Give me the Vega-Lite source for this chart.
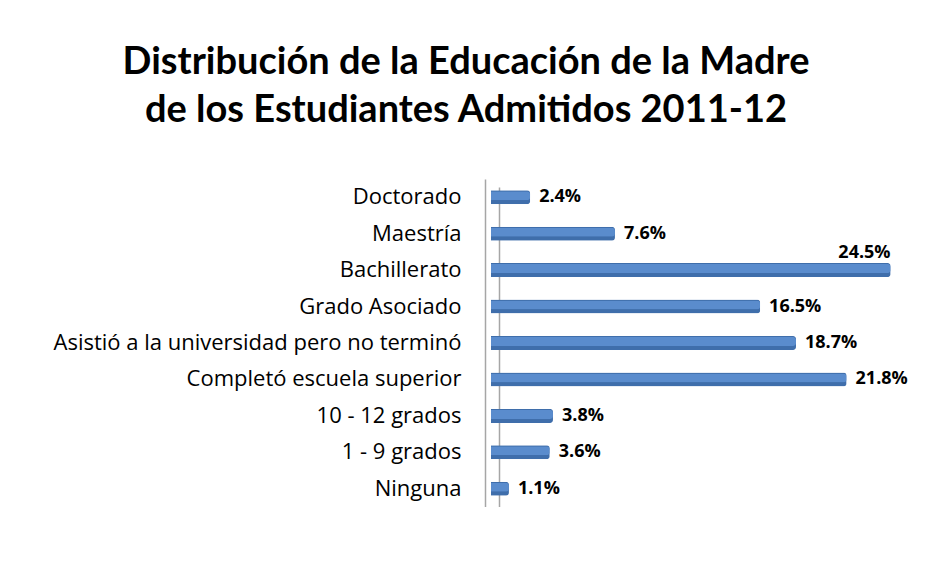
{
  "$schema": "https://vega.github.io/schema/vega-lite/v6.json",
  "width": 442,
  "height": 328,
  "autosize": {"type": "none"},
  "padding": {"left": 491, "top": 179, "right": 0, "bottom": 0},
  "background": "white",
  "title": {
    "text": ["Distribución de la Educación de la Madre", "de los Estudiantes Admitidos 2011-12"],
    "font": "Lato",
    "fontSize": 38,
    "fontWeight": "bold",
    "color": "black",
    "lineHeight": 48,
    "anchor": "middle",
    "frame": "group",
    "dx": -246,
    "offset": 49
  },
  "data": {
    "values": [
      {"cat": "Doctorado", "value": 2.4, "label": "2.4%"},
      {"cat": "Maestría", "value": 7.6, "label": "7.6%"},
      {"cat": "Bachillerato", "value": 24.5, "label": "24.5%"},
      {"cat": "Grado Asociado", "value": 16.5, "label": "16.5%"},
      {"cat": "Asistió a la universidad pero no terminó", "value": 18.7, "label": "18.7%"},
      {"cat": "Completó escuela superior", "value": 21.8, "label": "21.8%"},
      {"cat": "10 - 12 grados", "value": 3.8, "label": "3.8%"},
      {"cat": "1 - 9 grados", "value": 3.6, "label": "3.6%"},
      {"cat": "Ninguna", "value": 1.1, "label": "1.1%"}
    ]
  },
  "config": {"view": {"stroke": null}},
  "layer": [
    {
      "mark": {"type": "bar", "cornerRadiusEnd": 3, "color": "#3F6EAB", "size": 14},
      "encoding": {
        "y": {
          "field": "cat",
          "type": "nominal",
          "sort": null,
          "scale": {"paddingInner": 0.6, "paddingOuter": 0.3},
          "axis": {
            "title": null,
            "ticks": false,
            "domain": true,
            "domainColor": "#A6A6A6",
            "domainWidth": 1.5,
            "offset": 6,
            "labelFont": "Open Sans",
            "labelFontSize": 22,
            "labelColor": "black",
            "labelPadding": 24,
            "labelLimit": 600
          }
        },
        "x": {
          "field": "value",
          "type": "quantitative",
          "scale": {"domain": [0, 27.1], "nice": false, "zero": true},
          "axis": {
            "values": [0],
            "grid": true,
            "gridColor": "#A6A6A6",
            "gridWidth": 1.5,
            "translate": 8.5,
            "labels": false,
            "ticks": false,
            "domain": false,
            "title": null
          }
        }
      }
    },
    {
      "mark": {"type": "bar", "cornerRadiusEnd": 3, "color": "#5A8CCD", "size": 9, "yOffset": -1.5},
      "encoding": {
        "y": {"field": "cat", "type": "nominal", "sort": null},
        "x": {"field": "value", "type": "quantitative"}
      }
    },
    {
      "transform": [{"filter": "datum.value < 24"}],
      "mark": {"type": "text", "align": "left", "dx": 9, "font": "Open Sans", "fontSize": 18, "fontWeight": "bold", "color": "black"},
      "encoding": {
        "y": {"field": "cat", "type": "nominal", "sort": null},
        "x": {"field": "value", "type": "quantitative"},
        "text": {"field": "label"}
      }
    },
    {
      "transform": [{"filter": "datum.value >= 24"}],
      "mark": {"type": "text", "align": "right", "dx": 0, "dy": -17, "font": "Open Sans", "fontSize": 18, "fontWeight": "bold", "color": "black"},
      "encoding": {
        "y": {"field": "cat", "type": "nominal", "sort": null},
        "x": {"field": "value", "type": "quantitative"},
        "text": {"field": "label"}
      }
    }
  ]
}
